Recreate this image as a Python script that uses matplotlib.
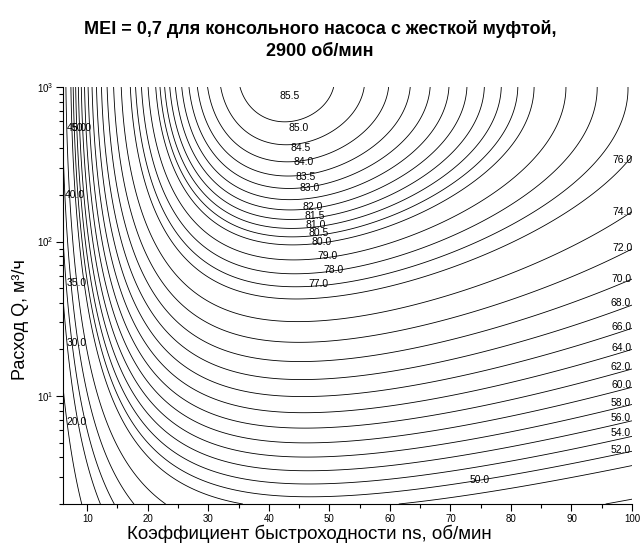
import numpy as np
import matplotlib
matplotlib.use("Agg")
import matplotlib.pyplot as plt
from matplotlib.ticker import MultipleLocator, LogLocator, NullFormatter, LogFormatterSciNotation

plt.rcParams["font.family"] = ["Liberation Sans", "DejaVu Sans"]
plt.rcParams["mathtext.fontset"] = "custom"
plt.rcParams["mathtext.rm"] = "Liberation Sans"
plt.rcParams["mathtext.default"] = "regular"

# Коэффициенты минимального КПД насоса (x = ln ns, y = ln Q), ESOB 2900
COEF_X2 = -11.48
COEF_Y2 = -0.85
COEF_XY = -0.38
COEF_X = 88.59
COEF_Y = 13.46
C_MEI = 127.97  # MEI = 0,7

NS_MIN, NS_MAX = 6.0, 100.0
Q_MIN, Q_MAX = 2.0, 1000.0

# Уровни изолиний КПД, %
LEVELS = [20, 30, 35, 40, 45, 50, 52, 54, 56, 58, 60, 62, 64, 66, 68, 70,
          72, 74, 76, 77, 78, 79, 80, 80.5, 81, 81.5, 82, 82.5, 83, 83.5,
          84, 84.5, 85, 85.5]

# Подписи изолиний: уровень и место подписи (ns, Q)
LABEL_LEVELS = [85.5, 85.0, 84.5, 84.0, 83.5, 83.0, 82.0, 81.5, 81.0, 80.5,
                80.0, 79.0, 78.0, 77.0,
                76.0, 74.0, 72.0, 70.0, 68.0, 66.0, 64.0, 62.0, 60.0, 58.0,
                56.0, 54.0, 52.0, 50.0,
                45.0, 50.0, 40.0, 35.0, 30.0, 20.0]
LABEL_NS = [43.5, 45.0, 45.3, 45.8, 46.0, 46.7, 47.2, 47.5, 47.8, 48.3,
            48.7, 49.7, 50.7, 48.2,
            98.5, 98.5, 98.5, 98.2, 98.2, 98.2, 98.2, 98.2, 98.2, 98.2,
            98.2, 98.2, 98.2, 74.8,
            8.3, 9.1, 7.9, 8.2, 8.3, 8.3]
LABEL_Q = [875, 543, 403, 327, 261, 222, 167, 146, 128, 113,
           99, 81, 65, 53,
           336, 155, 91, 57, 40, 28, 20.5, 15.4, 11.8, 9.0,
           7.2, 5.75, 4.47, 2.86,
           543, 543, 200, 53.8, 22.0, 6.79]


def kpd(ns, q):
    x = np.log(ns)
    y = np.log(q)
    return (COEF_X2 * x ** 2 + COEF_Y2 * y ** 2 + COEF_XY * x * y
            + COEF_X * x + COEF_Y * y - C_MEI)


fig = plt.figure(figsize=(6.4, 5.43), dpi=100)
ax = fig.add_axes([63 / 640, 1 - 504 / 543, (632 - 63) / 640, (504 - 87) / 543])

ns = np.linspace(NS_MIN, NS_MAX, 700)
q = np.geomspace(Q_MIN, Q_MAX, 700)
NS, Q = np.meshgrid(ns, q)
eta = kpd(NS, Q)

ax.contour(NS, Q, eta, levels=LEVELS, colors="black", linewidths=0.6)

for lev, x0, y0 in zip(LABEL_LEVELS, LABEL_NS, LABEL_Q):
    ax.text(x0, y0, f"{lev:.1f}", fontsize=7.5, ha="center", va="center",
            color="black")

ax.set_yscale("log")
ax.set_xlim(NS_MIN, NS_MAX)
ax.set_ylim(Q_MIN, Q_MAX)

ax.xaxis.set_major_locator(MultipleLocator(10))
ax.xaxis.set_minor_locator(MultipleLocator(5))
ax.yaxis.set_major_locator(LogLocator(base=10, numticks=10))
ax.yaxis.set_minor_locator(LogLocator(base=10, subs=np.arange(2, 10), numticks=10))
ax.yaxis.set_major_formatter(LogFormatterSciNotation())
ax.yaxis.set_minor_formatter(NullFormatter())

ax.tick_params(which="major", direction="out", length=5, width=0.8,
               labelsize=7, pad=2)
ax.tick_params(which="minor", direction="out", length=3, width=0.8)

for side in ["top", "right"]:
    ax.spines[side].set_visible(False)
for side in ["left", "bottom"]:
    ax.spines[side].set_linewidth(0.8)

fig.text(309 / 640, 1 - 534 / 543, "Коэффициент быстроходности ns, об/мин",
         fontsize=13.5, ha="center", va="center")
fig.text(21 / 640, 1 - 320 / 543, "Расход Q, м³/ч", fontsize=13,
         rotation=90, ha="center", va="center")

fig.text(0.5, 1 - 40 / 543,
         "MEI = 0,7 для консольного насоса с жесткой муфтой,\n2900 об/мин",
         fontsize=13, fontweight="bold", ha="center", va="center",
         multialignment="center", linespacing=1.4)

fig.savefig("out.png", dpi=100)
